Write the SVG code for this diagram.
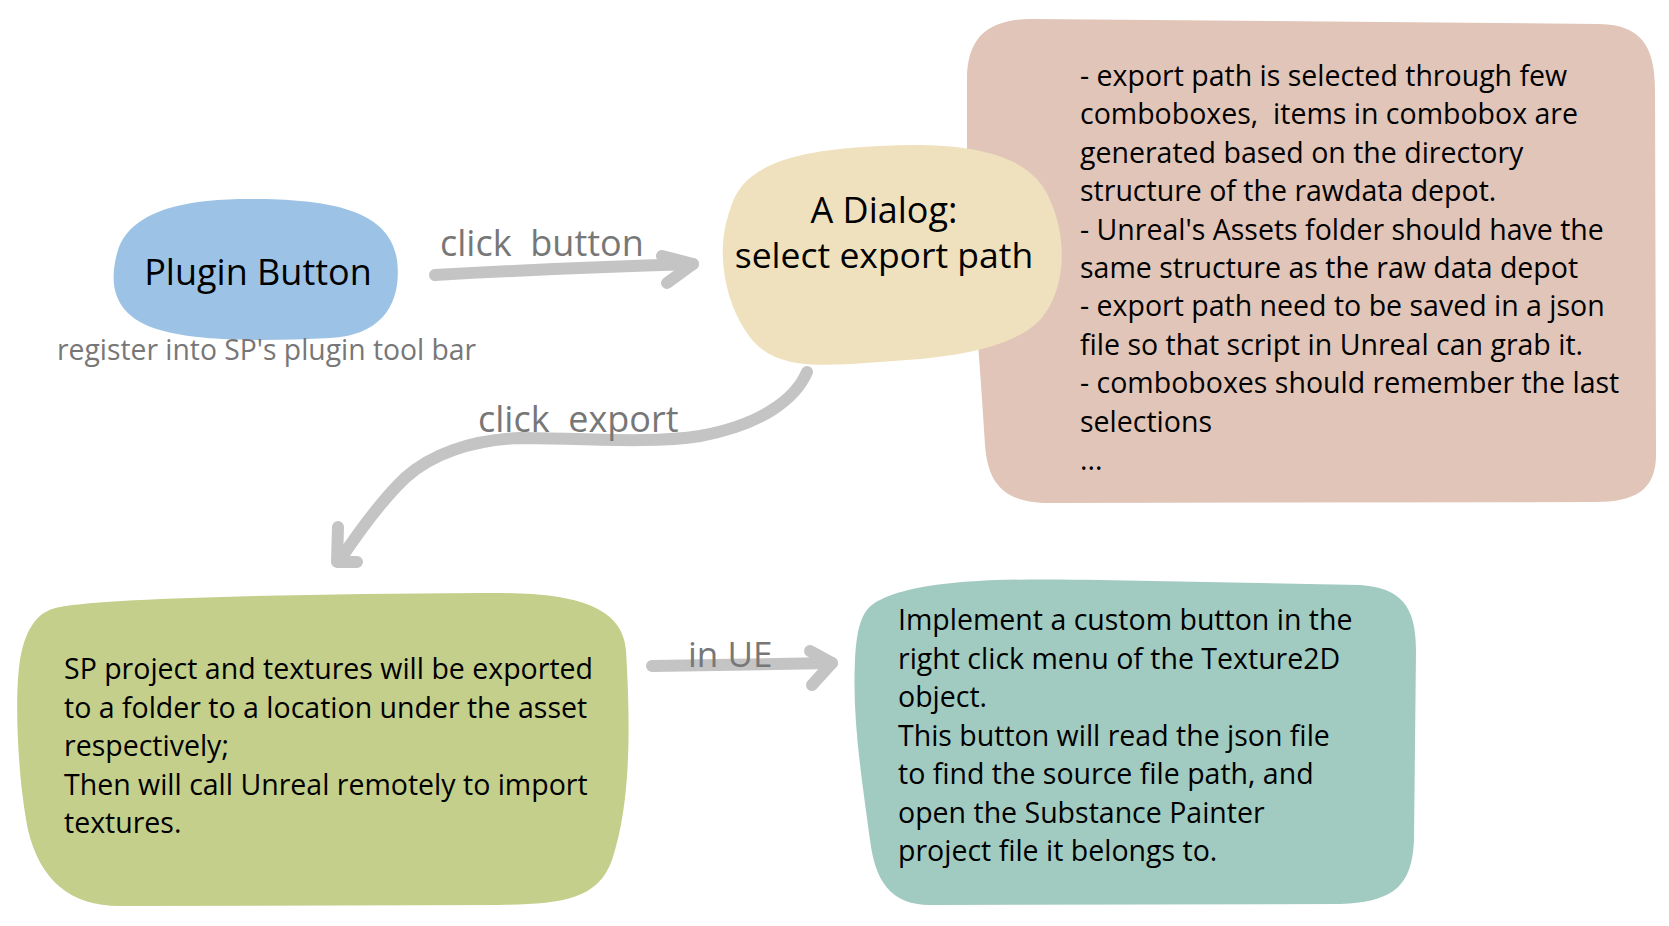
<svg xmlns="http://www.w3.org/2000/svg" width="1669" height="926" viewBox="0 0 1669 926">
<style>
.body{font-family:"Open Sans","Liberation Sans",sans-serif;font-size:28.5px;fill:#000}
.title{font-family:"Open Sans","Liberation Sans",sans-serif;font-size:36px;fill:#000}
.lbl{font-family:"Open Sans","Liberation Sans",sans-serif;font-size:36px;fill:#777}
.note{font-family:"Open Sans","Liberation Sans",sans-serif;font-size:28.3px;fill:#777}
.arr{fill:none;stroke:#c4c4c4;stroke-width:12;stroke-linecap:round;stroke-linejoin:round}
</style>
<rect width="1669" height="926" fill="#fff"/>
<g id="notes-box">
<path fill="#e0c5b8" d="M967,80 C967,35 990,20 1030,19 L1600,24 C1640,25 1655,45 1655,90 L1656,455 C1656,490 1635,502 1595,502 L1050,503 C1005,503 988,485 985,445 C980,360 970,250 967,150 Z"/>
<text class="body" xml:space="preserve"><tspan x="1080" y="86">- export path is selected through few</tspan><tspan x="1080" y="124.4">comboboxes,  items in combobox are</tspan><tspan x="1080" y="162.8">generated based on the directory</tspan><tspan x="1080" y="201.2">structure of the rawdata depot.</tspan><tspan x="1080" y="239.6">- Unreal's Assets folder should have the</tspan><tspan x="1080" y="278">same structure as the raw data depot</tspan><tspan x="1080" y="316.4">- export path need to be saved in a json</tspan><tspan x="1080" y="354.8">file so that script in Unreal can grab it.</tspan><tspan x="1080" y="393.2">- comboboxes should remember the last</tspan><tspan x="1080" y="431.6">selections</tspan><tspan x="1080" y="470">...</tspan></text>
</g>
<g id="dialog">
<path fill="#f0e1be" d="M730,210 C742,162 800,150 880,146 C960,142 1030,150 1050,200 C1068,240 1066,290 1040,320 C1010,350 950,358 880,362 C820,366 770,372 745,330 C725,300 715,250 730,210 Z"/>
<text class="title" text-anchor="middle" x="884" y="223">A Dialog:</text>
<text class="title" text-anchor="middle" x="884" y="268" style="font-size:35.5px">select export path</text>
</g>
<g id="plugin-button">
<path fill="#9cc3e5" d="M118,250 C133,205 200,198 260,199 C330,200 390,210 397,260 C402,300 385,335 330,338 C270,341 200,342 160,330 C118,318 106,290 118,250 Z"/>
<text class="title" text-anchor="middle" x="258" y="285">Plugin Button</text>
<text class="note" x="57" y="360">register into SP's plugin tool bar</text>
</g>
<g id="export-step">
<path fill="#c3cf8b" d="M60,607 C110,598 300,594 480,593 C560,592 622,600 626,650 C630,720 632,800 612,860 C598,900 560,904 500,905 L120,906 C70,906 40,880 28,830 C18,780 14,700 20,660 C26,625 40,610 60,607 Z"/>
<text class="body"><tspan x="64" y="679">SP project and textures will be exported</tspan><tspan x="64" y="717.5">to a folder to a location under the asset</tspan><tspan x="64" y="756">respectively;</tspan><tspan x="64" y="794.5">Then will call Unreal remotely to import</tspan><tspan x="64" y="833">textures.</tspan></text>
</g>
<g id="ue-step">
<path fill="#a1cbc1" d="M880,600 C920,580 1000,578 1100,580 L1360,585 C1400,588 1416,605 1416,650 L1414,840 C1412,885 1395,902 1340,904 L930,905 C890,905 875,880 870,840 C862,780 852,720 855,660 C857,625 862,608 880,600 Z"/>
<text class="body"><tspan x="898" y="630">Implement a custom button in the</tspan><tspan x="898" y="668.5">right click menu of the Texture2D</tspan><tspan x="898" y="707">object.</tspan><tspan x="898" y="745.5">This button will read the json file</tspan><tspan x="898" y="784">to find the source file path, and</tspan><tspan x="898" y="822.5">open the Substance Painter</tspan><tspan x="898" y="861">project file it belongs to.</tspan></text>
</g>
<g id="connectors">
<path class="arr" d="M435,275 Q560,268 693,264"/>
<path class="arr" d="M662,256 L693,264 L667,283"/>
<path class="arr" d="M807,372 C795,400 760,425 700,436 C650,444 580,438 520,438 C470,440 430,455 405,478 C380,502 360,530 340,560"/>
<path class="arr" d="M338,527 L337,562 L357,562"/>
<path class="arr" d="M652,666 L832,663"/>
<path class="arr" d="M810,651 L832,663 L812,685"/>
<text class="lbl" x="440" y="256" xml:space="preserve">click  button</text>
<text class="lbl" x="478" y="432" xml:space="preserve">click  export</text>
<text class="lbl" x="688" y="667" style="font-size:35px">in UE</text>
</g>
</svg>
